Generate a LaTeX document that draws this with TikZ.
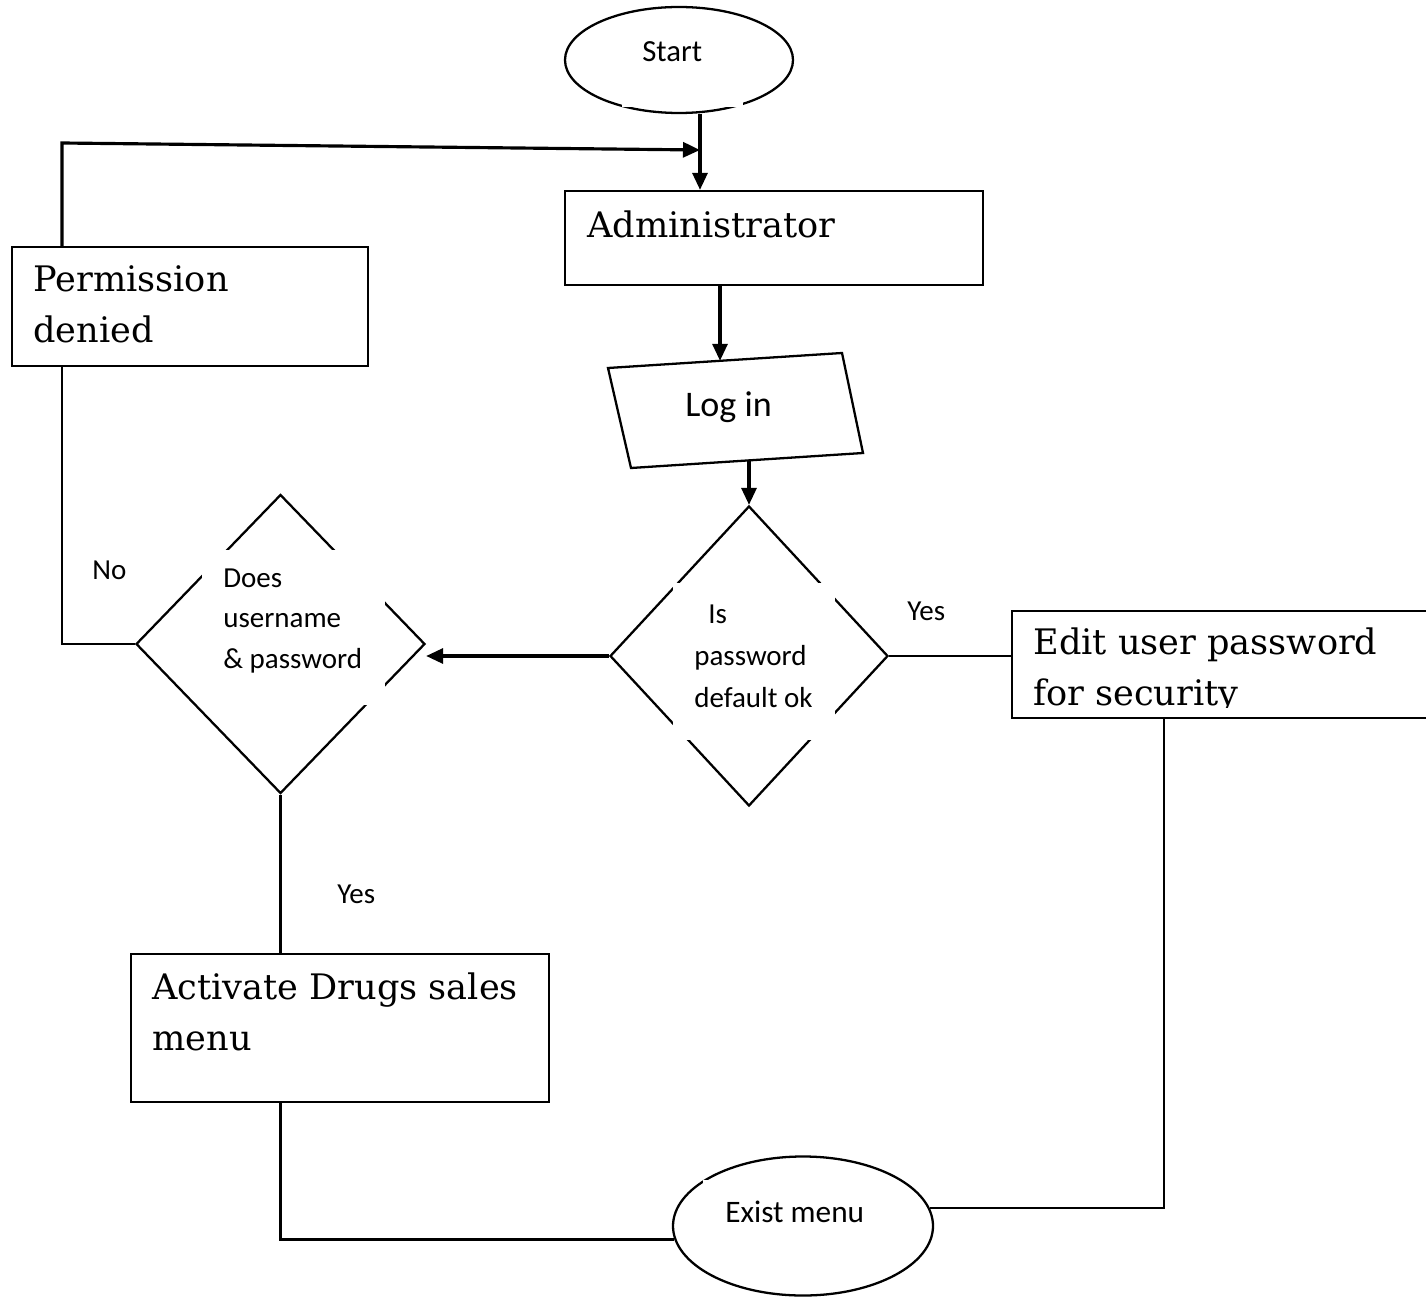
\documentclass[tikz,border=0pt]{standalone}
\usepackage{fontspec}
\setmainfont{DejaVu Serif}
\newfontfamily\carlito{Carlito}
\usetikzlibrary{arrows.meta,shapes.geometric}
\newcommand\pxu{0.02cm}

\begin{document}
\begin{tikzpicture}[x=0.02cm,y=-0.02cm,
  box/.style={draw,line width=1.3pt,inner sep=0pt},
  term/.style={draw,ellipse,line width=1.3pt,inner sep=0pt},
  dec/.style={draw,diamond,line width=1.3pt,inner sep=0pt},
  bigtxt/.style={anchor=base west,inner sep=0pt,align=left,font=\fontsize{20}{28.5}\selectfont},
  smalltxt/.style={anchor=base west,inner sep=0pt,align=left,font=\carlito\fontsize{#1}{22.8}\selectfont},
  smalltxt/.default=16.5,
  link/.style={line width=1.3pt},
  arr/.style={line width=1.8pt,-{Triangle[length=0.34cm,width=0.3cm]}}]
  \clip (0,0) rectangle (1426,1297);

  % terminals and boxes
  \node[term,minimum width=228*\pxu,minimum height=106*\pxu] (start) at (679,60) {};
  \fill[white] (622,20) rectangle (743,107);
  \node[smalltxt=17.5] (starttxt) at (642,62) {Start};

  \node[box,minimum width=418*\pxu,minimum height=94*\pxu] (admin) at (774,238) {};
  \node[bigtxt] (admintxt) at (587,237.5) {Administrator};

  \node[box,minimum width=356*\pxu,minimum height=119*\pxu] (deny) at (190,306.5) {};
  \node[bigtxt] (denytxt) at (33,342) {Permission\\denied};

  % log in (slanted)
  \coordinate (lg1) at (608,368);
  \coordinate (lg2) at (842,353);
  \coordinate (lg3) at (863,453);
  \coordinate (lg4) at (631,468);
  \draw[link] (lg1) -- (lg2) -- (lg3) -- (lg4) -- cycle;
  \node[smalltxt=20.5] (login) at (685,416) {Log in};
  \coordinate (lgtop) at (720,360.8);
  \coordinate (lgbot) at (749,460.3);

  % decisions
  \node[dec,minimum width=289*\pxu,minimum height=299*\pxu] (chk) at (280.5,644) {};
  \fill[white] (202,550) rectangle (385,705);
  \node[smalltxt,font=\carlito\fontsize{16.5}{22.8}\selectfont] (chktxt) at (223,668) {Does\\username\\\& password};

  \node[dec,minimum width=278*\pxu,minimum height=300*\pxu] (pwd) at (749,656) {};
  \fill[white] (673,583) rectangle (835,740);
  \node[smalltxt,font=\carlito\fontsize{16.5}{23.9}\selectfont] (pwdtxt) at (694,707) {\hspace{0.28cm}Is\\password\\default ok};

  \node[box,minimum width=428*\pxu,minimum height=107*\pxu] (edit) at (1226,664.5) {};
  \begin{scope}
    \clip (1012,611) rectangle (1426,707);
    \node[bigtxt] (edittxt) at (1033,705) {Edit user password\\for security};
  \end{scope}

  \node[box,minimum width=418*\pxu,minimum height=148*\pxu] (act) at (340,1028) {};
  \node[bigtxt] (acttxt) at (152,1050) {Activate Drugs sales\\menu};

  \node[term,minimum width=260*\pxu,minimum height=139*\pxu] (exitm) at (803,1226) {};
  \fill[white] (703,1180) rectangle (880,1262);
  \node[smalltxt=17.8] (exittxt) at (725,1222) {Exist menu};

  % branch labels
  \node[smalltxt] (lblno) at (92,579) {No};
  \node[smalltxt] (lblyes) at (907,620) {Yes};
  \node[smalltxt] (lblyesb) at (337,903) {Yes};

  % connectors
  \coordinate (jn) at (700,150);
  \coordinate (lp) at (62,143);
  \coordinate (rlane) at (1164,718);
  \draw[arr] (start.south -| jn) -- (admin.north -| jn);
  \draw[arr] (deny.north -| lp) -- (lp) -- (jn);
  \draw[arr] (admin.south -| lgtop) -- (lgtop);
  \draw[arr] (lgbot) -- (pwd.north);
  \draw[arr] (pwd.west) -- (pwd.west -| chk.east);
  \draw[link] (pwd.east) -- (pwd.east -| edit.west);
  \draw[link] (edit.south -| rlane) |- (exitm.8);
  \draw[link] (chk.south) -- (chk.south |- act.north);
  \draw[link] (act.south -| chk.south) |- (exitm.186);
  \draw[link] (chk.west) -| (deny.south -| lp);
\end{tikzpicture}
\end{document}
